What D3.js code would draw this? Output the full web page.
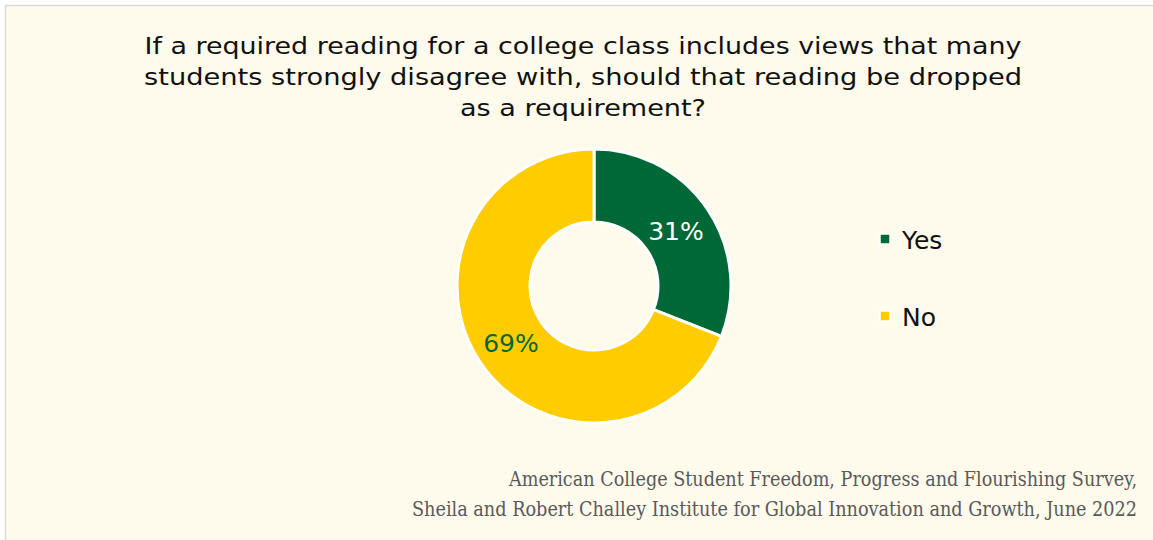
<!DOCTYPE html>
<html>
<head>
<meta charset="utf-8">
<script src="https://cdn.jsdelivr.net/npm/d3@7/dist/d3.min.js"></script>
<style>
  html, body { margin: 0; padding: 0; background: #ffffff; }
  svg { display: block; }
</style>
</head>
<body>
<svg id="chart" width="1153" height="540"></svg>
<script>
// Survey answers
const categories = ["Yes", "No"];
const shares = [31, 69];
const colors = ["#006837", "#FFCC00"];
const labelColors = ["#ffffff", "#006837"];

const titleLines = [
  "If a required reading for a college class includes views that many",
  "students strongly disagree with, should that reading be dropped",
  "as a requirement?"
];
const sourceLines = [
  "American College Student Freedom, Progress and Flourishing Survey,",
  "Sheila and Robert Challey Institute for Global Innovation and Growth, June 2022"
];

const W = 1153, H = 540;
const svg = d3.select("#chart");
const sans = "'DejaVu Sans', 'Noto Sans', sans-serif";

// panel background with a thin border
svg.append("rect").attr("x", 0).attr("y", 0).attr("width", W).attr("height", H).attr("fill", "#ffffff");
svg.append("rect")
  .attr("x", 5.5).attr("y", 5.5).attr("width", W + 10).attr("height", H + 10)
  .attr("fill", "#FEFAEC").attr("stroke", "#D9D9D9").attr("stroke-width", 1.5);

// title, each line fitted to its set width
const titleWidths = [877, 878, 246];
svg.append("g").selectAll("text").data(titleLines).join("text")
  .attr("x", 583).attr("y", (d, i) => 54 + i * 31)
  .attr("text-anchor", "middle")
  .attr("font-family", sans)
  .attr("font-size", 23)
  .attr("fill", "#111111")
  .attr("textLength", (d, i) => titleWidths[i])
  .attr("lengthAdjust", "spacingAndGlyphs")
  .text(d => d);

// donut
const cx = 594, cy = 286, rOuter = 137, rInner = 64;
const pie = d3.pie().sort(null).value(d => d.value);
const arcs = pie(categories.map((c, i) => ({ name: c, value: shares[i], i })));
const arc = d3.arc().innerRadius(rInner).outerRadius(rOuter);

const g = svg.append("g").attr("transform", `translate(${cx},${cy})`);
g.selectAll("path").data(arcs).join("path")
  .attr("d", arc)
  .attr("fill", d => colors[d.data.i])
  .attr("stroke", "#ffffff")
  .attr("stroke-width", 3)
  .attr("stroke-linejoin", "round");

// value labels
const labelPos = [[82, -55], [-83, 57]];
g.selectAll("text.val").data(arcs).join("text")
  .attr("class", "val")
  .attr("x", d => labelPos[d.data.i][0])
  .attr("y", d => labelPos[d.data.i][1])
  .attr("text-anchor", "middle")
  .attr("dominant-baseline", "central")
  .attr("font-family", sans)
  .attr("font-size", 25)
  .attr("fill", d => labelColors[d.data.i])
  .text(d => d.data.value + "%");

// legend
const legend = svg.append("g");
const ly = d3.scalePoint().domain(categories).range([239, 316]);
const items = legend.selectAll("g").data(categories).join("g")
  .attr("transform", d => `translate(880,${ly(d)})`);
items.append("rect")
  .attr("x", 0).attr("y", -5).attr("width", 10).attr("height", 10)
  .attr("fill", (d, i) => colors[i])
  .attr("stroke", "#ffffff").attr("stroke-width", 1.5);
items.append("text")
  .attr("x", 22).attr("y", 1)
  .attr("dominant-baseline", "central")
  .attr("font-family", sans)
  .attr("font-size", 25)
  .attr("fill", "#111111")
  .text(d => d);

// source note
const sourceWidths = [628, 725];
svg.append("g").selectAll("text").data(sourceLines).join("text")
  .attr("x", 1137).attr("y", (d, i) => 486 + i * 30)
  .attr("text-anchor", "end")
  .attr("font-family", "'DejaVu Serif Condensed', 'DejaVu Serif', serif")
  .attr("font-stretch", "condensed")
  .attr("font-size", 20)
  .attr("fill", "#595959")
  .attr("textLength", (d, i) => sourceWidths[i])
  .attr("lengthAdjust", "spacingAndGlyphs")
  .text(d => d);
</script>
</body>
</html>
